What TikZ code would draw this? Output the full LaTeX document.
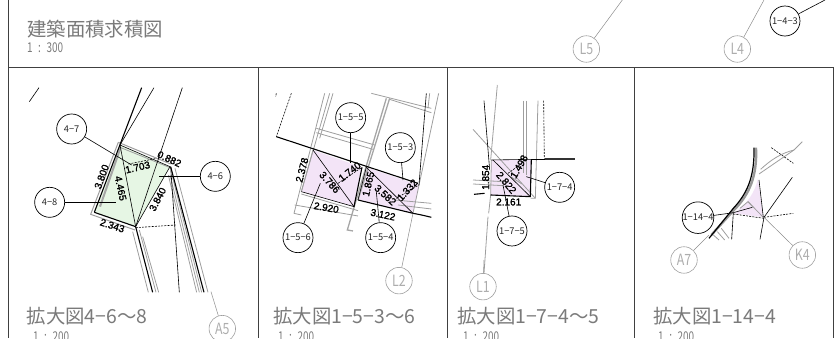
\documentclass[tikz,border=0pt]{standalone}
\usepackage{fontspec}
\setmainfont{Liberation Sans}
\newfontfamily\jpf{Noto Sans CJK JP}
\newfontfamily\dimf[FakeBold=1.6]{Liberation Sans}
\usetikzlibrary{calc}
\definecolor{ttl}{gray}{0.48}
\definecolor{ggl}{gray}{0.62}
\definecolor{grn}{HTML}{E6F6E4}
\definecolor{pnk}{HTML}{F3E4F7}
\newcommand{\scaletxt}[1]{\scalebox{0.74}[1]{#1}}
\newcommand{\gtxt}[1]{\scalebox{0.8}[1]{#1}}
\newcommand{\ratio}[1]{\scaletxt{1\hspace{0.55em}:\hspace{0.55em}#1}}
\tikzset{
 frameline/.style={draw=black!75,line width=0.8pt},
 circ/.style={circle,draw=black,line width=0.7pt,minimum size=30pt,inner sep=0pt,font=\jpf\fontsize{9.3}{10}\selectfont,text=black!85},
 gcirc/.style={circle,draw=ggl,line width=0.6pt,minimum size=26.5pt,inner sep=0pt,font=\jpf\fontsize{15.5}{16}\selectfont,text=black!32},
 lead/.style={draw=black,line width=0.6pt},
 glead/.style={draw=black!45,line width=0.5pt},
 thin1/.style={draw=black,line width=0.6pt},
 thick1/.style={draw=black,line width=1.1pt},
 gr/.style={draw=black!38,line width=0.8pt},
 grw/.style={draw=black!35,line width=1.3pt},
 dsh/.style={draw=black,line width=0.6pt,dash pattern=on 2pt off 1.2pt},
 dim/.style={font=\dimf\fontsize{10}{10}\selectfont,inner sep=0pt,text=black},
 ttlt/.style={font=\jpf\fontsize{19.4}{20}\selectfont,text=ttl,anchor=west,inner sep=0pt},
 scl/.style={font=\jpf\fontsize{13.5}{14}\selectfont,text=ttl,anchor=west,inner sep=0pt},
 panel/.style={x=0.3333pt,y=-0.3333pt}
}
\begin{document}
\begin{tikzpicture}[x=1pt,y=-1pt]
\useasboundingbox (0,0) rectangle (834,338);
% frame
\draw[frameline] (8,0) -- (8,338);
\draw[frameline] (8,67.5) -- (833.5,67.5) -- (833.5,338);
\draw[frameline] (258,67.5) -- (258,338);
\draw[frameline] (447,67.5) -- (447,338);
\draw[frameline] (634,67.5) -- (634,338);
% titles
\node[ttlt] (t0) at (27,29) {建築面積求積図};
\node[scl] (s0) at (27,47.5) {\ratio{300}};
\node[ttlt] (t1) at (26.5,316.5) {拡大図4−6〜8};
\node[scl] (s1) at (33,337) {\ratio{200}};
\node[ttlt] (t2) at (273,316.5) {拡大図1−5−3〜6};
\node[scl] (s2) at (278,337) {\ratio{200}};
\node[ttlt] (t3) at (457,316.5) {拡大図1−7−4〜5};
\node[scl] (s3) at (463,337) {\ratio{200}};
\node[ttlt] (t4) at (653,316.5) {拡大図1−14−4};
\node[scl] (s4) at (658,337) {\ratio{200}};
% top strip
\begin{scope}[xshift=500pt,panel]
\node[gcirc] (L5) at (259,147) {\gtxt{L5}};
\node[gcirc] (L4) at (712,147) {\gtxt{L4}};
\node[circ] (n143) at (855,63) {1−4−3};
\coordinate (e5) at (367,0);
\coordinate (e4) at (792,0);
\coordinate (e143) at (975,0);
\draw[glead] (L5) -- (e5);
\draw[glead] (L4) -- (e4);
\draw[lead] (n143) -- (e143);
\end{scope}
% panel 1
\begin{scope}[yshift=-60pt,panel]
\fill[grn] (360,255) -- (510,320) -- (407,500) -- (283,457) -- cycle;
\draw[gr,line width=1pt] (355,247) -- (512,312);
\draw[gr,line width=1pt] (355,247) -- (272,463) -- (405,510);
\draw[grw,line width=2pt] (362,262) -- (300,440);
\draw[gr] (360,262) -- (508,322);
\draw[gr] (398,515) -- (445,697);
\draw[gr] (418,510) -- (468,697);
\draw[gr] (428,530) -- (476,697);
\draw[gr] (525,325) -- (624,697);
\draw[gr] (505,345) -- (590,697);
\draw[gr] (510,345) -- (598,697);
\draw[gr] (516,345) -- (605,697);
\draw[thin1] (117,83) -- (88,125);
\draw[thick1] (425,83) -- (283,457);
\draw[thin1] (462,83) -- (360,255);
\draw[thin1] (547,83) -- (407,500);
\draw[thin1] (360,255) -- (510,320) -- (407,500) -- (360,255);
\draw[thick1] (283,457) -- (407,500);
\draw[dsh] (385,312) -- (470,295);
\draw[dsh] (407,503) -- (527,495);
\draw[thick1] (407,500) -- (458,697);
\draw[thin1] (512,320) -- (538,697);
\draw[thick1] (512,320) -- (612,697);
\node[circ] (n47) at (215,207) {4−7};
\node[circ] (n46) at (646,349) {4−6};
\node[circ] (n48) at (149,427) {4−8};
\node[gcirc] (A5) at (667,806) {\gtxt{A5}};
\coordinate (e47) at (395,315);
\coordinate (e46) at (477,349);
\coordinate (e48) at (348,427);
\coordinate (eA5) at (633,695);
\draw[lead] (n47) -- (e47);
\draw[lead] (n46) -- (e46);
\draw[lead] (n48) -- (e48);
\draw[glead] (A5) -- (eA5);
\node[dim,rotate=70] (d1) at (305,350) {3.800};
\node[dim,rotate=-78] (d2) at (362,385) {4.465};
\node[dim,rotate=13] (d3) at (413,322) {1.703};
\node[dim,rotate=-25] (d4) at (508,297) {0.882};
\node[dim,rotate=62] (d5) at (473,418) {3.840};
\node[dim,rotate=-18] (d6) at (337,497) {2.343};
\end{scope}
% panel 2
\begin{scope}[xshift=258pt,yshift=-60pt,panel]
\fill[pnk] (165,270) -- (312,322) -- (288,440) -- (130,395) -- cycle;
\fill[pnk] (325,322) -- (483,375) -- (465,460) -- (300,420) -- cycle;
\draw[gr] (200,100) -- (108,460) -- (130,465);
\draw[gr] (215,100) -- (130,395);
\draw[gr] (225,100) -- (185,235);
\draw[gr] (175,205) -- (350,255);
\draw[gr] (175,218) -- (345,268);
\draw[grw] (385,115) -- (268,510) -- (285,513);
\draw[grw] (395,115) -- (300,420);
\draw[gr] (340,100) -- (520,145);
\draw[gr] (395,118) -- (520,158);
\draw[gr] (130,402) -- (300,452);
\draw[gr] (110,435) -- (300,468);
\draw[gr] (410,420) -- (520,430);
\draw[gr] (420,435) -- (520,447);
\draw[gr] (165,270) -- (130,395);
\draw[gr] (542,100) -- (465,460);
\draw[gr] (515,100) -- (510,145);
\draw[thin1] (505,100) -- (483,375);
\draw[dsh] (100,100) -- (55,230);
\draw[dsh] (55,100) -- (53,110);
\draw[thick1] (55,230) -- (480,370);
\draw[thin1] (130,395) -- (288,440) -- (165,270);
\draw[thick1] (288,440) -- (312,322);
\draw[dsh] (240,370) -- (312,322);
\draw[thick1] (300,420) -- (465,460) to[bend left=2] (520,472);
\draw[thin1] (325,322) -- (300,420);
\draw[thin1] (325,322) -- (465,460);
\draw[dsh] (415,415) -- (483,375);
\node[circ] (n155) at (278,173) {1−5−5};
\node[circ] (n153) at (427,263) {1−5−3};
\node[circ] (n156) at (120,533) {1−5−6};
\node[circ] (n154) at (368,533) {1−5−4};
\node[gcirc] (L2) at (423,662) {\gtxt{L2}};
\coordinate (e155) at (278,310);
\coordinate (e153) at (435,360);
\coordinate (e156) at (187,370);
\coordinate (e154) at (355,395);
\coordinate (eL2) at (465,460);
\draw[lead] (n155) -- (e155);
\draw[lead] (n153) -- (e153);
\draw[lead] (n156) -- (e156);
\draw[lead] (n154) -- (e154);
\draw[glead] (L2) -- (eL2);
\node[dim,rotate=75] (d7) at (132,330) {2.378};
\node[dim,rotate=-48] (d8) at (215,367) {3.786};
\node[dim,rotate=38] (d9) at (275,335) {1.740};
\node[dim,rotate=-10] (d10) at (205,443) {2.920};
\node[dim,rotate=77] (d11) at (331,372) {1.865};
\node[dim,rotate=-42] (d12) at (382,405) {3.582};
\node[dim,rotate=-12] (d13) at (375,464) {3.122};
\node[dim,rotate=48] (d14) at (448,390) {1.332};
\end{scope}
% panel 3
\begin{scope}[xshift=448pt,yshift=-60pt,panel]
\fill[pnk] (130,300) -- (250,298) -- (247,410) -- (128,405) -- cycle;
\draw[gr] (75,208) -- (262,415);
\draw[gr] (225,122) -- (225,340);
\draw[gr] (235,122) -- (235,345);
\draw[gr] (270,122) -- (262,415) -- (248,415);
\draw[gr] (180,345) -- (222,372);
\draw[gr] (75,360) -- (165,365);
\draw[gr] (75,372) -- (165,377);
\draw[gr] (148,75) -- (128,300);
\draw[gr] (128,405) -- (122,460);
\draw[gr] (120,470) -- (108,640);
\draw[gr] (130,300) -- (128,405);
\draw[thin1] (108,122) -- (125,330);
\draw[thin1] (130,300) -- (250,298);
\draw[thick1] (250,298) -- (380,298);
\draw[line width=1.8pt,draw=black!80] (290,298) -- (380,298);
\draw[thick1] (250,298) -- (247,410) -- (128,405);
\draw[thin1] (135,300) -- (247,410);
\draw[dsh] (180,340) -- (222,310);
\draw[dsh] (287,122) -- (289,298);
\draw[thick1] (78,403) -- (110,400);
\node[circ] (n174) at (335,382) {1−7−4};
\node[circ] (n175) at (192,513) {1−7−5};
\node[gcirc] (L1) at (105,680) {\gtxt{L1}};
\coordinate (e174) at (235,350);
\coordinate (e175) at (165,375);
\coordinate (eL1) at (108,600);
\draw[lead] (n174) -- (e174);
\draw[lead] (n175) -- (e175);
\draw[glead] (L1) -- (eL1);
\node[dim,rotate=90] (d15) at (113,352) {1.854};
\node[dim,rotate=-50] (d16) at (175,368) {2.822};
\node[dim,rotate=60] (d17) at (213,320) {1.498};
\node[dim] (d18) at (182,426) {2.161};
\end{scope}
% panel 4
\begin{scope}[xshift=634pt,yshift=-100pt,panel]
\fill[pnk] (372,235) -- (388,352) -- (300,340) .. controls (340,310) and (362,280) .. (372,235) -- cycle;
\draw[line width=2.4pt,draw=black!40] (366,143) .. controls (370,230) and (345,285) .. (300,330) -- (232,405);
\draw[gr] (375,222) -- (480,150) -- (505,125);
\draw[gr] (380,208) .. controls (410,180) and (440,160) .. (480,150);
\draw[gr] (342,305) -- (388,352);
\draw[gr] (318,325) -- (342,305) -- (358,322);
\draw[gr] (250,395) -- (272,420);
\draw[gr] (262,385) -- (285,415);
\draw[gr] (238,405) -- (255,420);
\draw[line width=1.2pt,draw=black] (360,143) .. controls (362,230) and (340,280) .. (298,325) -- (225,415);
\draw[thin1] (375,240) -- (388,352);
\draw[thin1] (298,338) -- (293,418);
\draw[thin1] (298,338) -- (355,322);
\draw[thin1] (390,352) -- (475,232);
\draw[thin1] (390,352) -- (378,418);
\draw[dsh] (298,342) -- (390,355);
\draw[dsh] (390,352) -- (478,340);
\draw[dsh] (412,143) -- (478,190);
\node[circ] (n1144) at (192,353) {1−14−4};
\node[gcirc] (A7) at (150,480) {\gtxt{A7}};
\node[gcirc] (K4) at (505,465) {\gtxt{K4}};
\coordinate (e1144) at (298,338);
\coordinate (eA7) at (225,405);
\coordinate (eK4) at (390,352);
\draw[lead] (n1144) -- (e1144);
\draw[glead] (A7) -- (eA7);
\draw[glead] (K4) -- (eK4);
\end{scope}
\end{tikzpicture}
\end{document}
